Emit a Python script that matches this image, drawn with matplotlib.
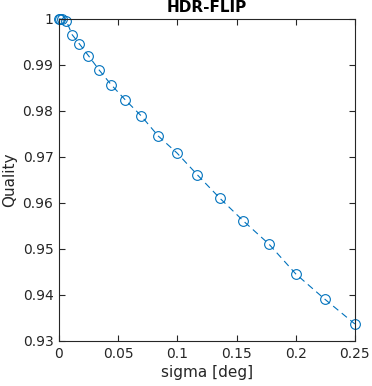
import matplotlib.pyplot as plt

# sigma [deg] and quality values
sigma = [0.0, 0.0007, 0.0028, 0.0062, 0.0111, 0.0173, 0.0249, 0.0339, 0.0443,
         0.0561, 0.0693, 0.0838, 0.0997, 0.1170, 0.1357, 0.1558, 0.1773,
         0.2001, 0.2244, 0.2500]
quality = [1.0, 1.0, 0.9999, 0.9996, 0.99659, 0.99457, 0.99202, 0.98891,
           0.98565, 0.98239, 0.97898, 0.97457, 0.97087, 0.96609, 0.96109,
           0.95609, 0.95109, 0.94457, 0.93913, 0.93370]

xticks = [0, 0.05, 0.1, 0.15, 0.2, 0.25]
xticklabels = ["0", "0.05", "0.1", "0.15", "0.2", "0.25"]
yticks = [0.93, 0.94, 0.95, 0.96, 0.97, 0.98, 0.99, 1.0]
yticklabels = ["0.93", "0.94", "0.95", "0.96", "0.97", "0.98", "0.99", "1"]

dark = (0.15, 0.15, 0.15)
blue = "#0072BD"

fig = plt.figure(figsize=(3.72, 3.86), dpi=100)
ax = fig.add_axes([0.1586, 0.1166, 0.7954, 0.8342])
line, = ax.plot(sigma, quality, "--", color=blue, linewidth=0.8,
                marker="o", markersize=7, markerfacecolor="none",
                markeredgecolor=blue, markeredgewidth=0.8, clip_on=False)
line.set_dashes((6, 4))

ax.set_xlim(0, 0.25)
ax.set_ylim(0.93, 1.0)
ax.set_xticks(xticks)
ax.set_xticklabels(xticklabels)
ax.set_yticks(yticks)
ax.set_yticklabels(yticklabels)
ax.tick_params(direction="in", length=4, width=0.8, colors=dark,
               labelsize=10, top=True, right=True, pad=4)
for s in ax.spines.values():
    s.set_color(dark)
    s.set_linewidth(0.8)

ax.set_xlabel("sigma [deg]", fontsize=11, color=dark, labelpad=3)
ax.set_ylabel("Quality", fontsize=11, color=dark, labelpad=4)
ax.set_title("HDR-FLIP", fontsize=11, fontweight="bold", pad=5)

fig.savefig("out.png", dpi=100)
